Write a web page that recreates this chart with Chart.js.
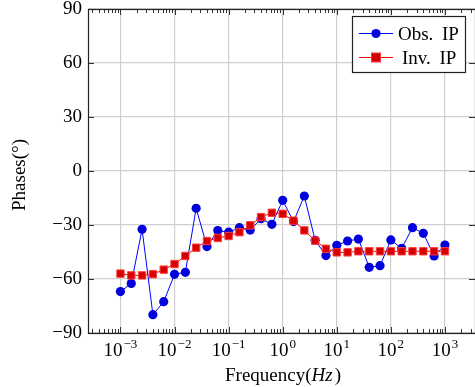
<!DOCTYPE html>
<html>
<head>
<meta charset="utf-8">
<script src="https://cdn.jsdelivr.net/npm/chart.js@4/dist/chart.umd.min.js"></script>
<style>
  html, body { margin: 0; padding: 0; background: #fff; }
  canvas { display: block; }
</style>
</head>
<body>
<canvas id="phaseChart" width="475" height="387"></canvas>
<script>
// Frequencies (Hz), 5 points per decade
const frequencies = [
  0.001, 0.001585, 0.002512, 0.003981, 0.00631,
  0.01, 0.01585, 0.02512, 0.03981, 0.0631,
  0.1, 0.1585, 0.2512, 0.3981, 0.631,
  1, 1.585, 2.512, 3.981, 6.31,
  10, 15.85, 25.12, 39.81, 63.1,
  100, 158.5, 251.2, 398.1, 631,
  1000
];

// Observed IP phases (degrees)
const obsIP = [
  -67, -62.5, -32.4, -79.8, -72.6,
  -57.4, -56.3, -20.7, -42, -33.1,
  -34, -31.5, -32.8, -26.5, -29.6,
  -16.3, -28.1, -13.9, -38.5, -47,
  -41.3, -38.9, -37.8, -53.5, -52.6,
  -38.3, -43, -31.5, -34.6, -47.2,
  -41.1
];

// Inverted IP phases (degrees)
const invIP = [
  -57, -58, -58, -57.3, -54.8,
  -51.7, -47.2, -42.6, -38.9, -37.2,
  -36.1, -34, -30.2, -25.6, -23.2,
  -23.8, -27.6, -33, -38.7, -43.2,
  -45.2, -45.2, -44.6, -44.6, -44.6,
  -44.6, -44.6, -44.6, -44.6, -44.6,
  -44.6
];

const yTicks = [-90, -60, -30, 0, 30, 60, 90];
const xDecades = [-3, -2, -1, 0, 1, 2, 3];

const SERIF = '"Liberation Serif", "Times New Roman", serif';
const GRID = '#cfcfcf';

function toPoints(ys) {
  return ys.map((y, i) => ({ x: frequencies[i], y: y }));
}

function minus(v) {
  return v < 0 ? '\u2212' + Math.abs(v) : String(v);
}

// frame, inside ticks, x labels, axis titles and legend
const decorations = {
  id: 'decorations',
  afterDraw(chart) {
    const ctx = chart.ctx;
    const area = chart.chartArea;
    const xs = chart.scales.x;
    const ys = chart.scales.y;
    ctx.save();

    // ticks
    ctx.strokeStyle = '#333';
    ctx.lineWidth = 1;
    ctx.beginPath();
    for (let d = -4; d <= 3; d++) {
      for (let m = 1; m <= 9; m++) {
        const v = m * Math.pow(10, d);
        if (v < xs.min || v > xs.max) continue;
        const px = Math.round(xs.getPixelForValue(v)) + 0.5;
        const len = m === 1 ? 6 : 4;
        ctx.moveTo(px, area.bottom);
        ctx.lineTo(px, area.bottom - len);
        ctx.moveTo(px, area.top);
        ctx.lineTo(px, area.top + len);
      }
    }
    yTicks.forEach(v => {
      const py = Math.round(ys.getPixelForValue(v)) + 0.5;
      ctx.moveTo(area.left, py);
      ctx.lineTo(area.left + 6, py);
      ctx.moveTo(area.right, py);
      ctx.lineTo(area.right - 6, py);
    });
    ctx.stroke();

    // frame
    ctx.strokeStyle = '#222';
    ctx.lineWidth = 1.2;
    ctx.strokeRect(area.left + 0.5, area.top + 0.5, area.right - area.left, area.bottom - area.top);

    // x tick labels 10^n
    ctx.fillStyle = '#000';
    ctx.textBaseline = 'alphabetic';
    xDecades.forEach(d => {
      const px = xs.getPixelForValue(Math.pow(10, d));
      const exp = minus(d);
      ctx.font = '19px ' + SERIF;
      const wBase = ctx.measureText('10').width;
      ctx.font = '13px ' + SERIF;
      const wExp = ctx.measureText(exp).width;
      const x0 = px - (wBase + wExp + 1) / 2;
      ctx.textAlign = 'left';
      ctx.font = '19px ' + SERIF;
      ctx.fillText('10', x0, 356);
      ctx.font = '13px ' + SERIF;
      ctx.fillText(exp, x0 + wBase + 1, 348);
    });

    // x title
    ctx.font = '19px ' + SERIF;
    const p1 = 'Frequency(', p2 = 'Hz', p3 = ')';
    const w1 = ctx.measureText(p1).width;
    const w3 = ctx.measureText(p3).width;
    ctx.font = 'italic 19px ' + SERIF;
    const w2 = ctx.measureText(p2).width;
    const tx = 283 - (w1 + w2 + w3 + 2) / 2;
    ctx.font = '19px ' + SERIF;
    ctx.fillText(p1, tx, 381);
    ctx.font = 'italic 19px ' + SERIF;
    ctx.fillText(p2, tx + w1, 381);
    ctx.font = '19px ' + SERIF;
    ctx.fillText(p3, tx + w1 + w2 + 2, 381);

    // y title
    ctx.save();
    ctx.translate(25, 175);
    ctx.rotate(-Math.PI / 2);
    ctx.textAlign = 'center';
    ctx.fillText('Phases(\u00B0)', 0, 0);
    ctx.restore();

    // legend
    ctx.fillStyle = '#fff';
    ctx.fillRect(352, 16, 113, 56);
    ctx.strokeStyle = '#222';
    ctx.lineWidth = 1.2;
    ctx.strokeRect(352.5, 16.5, 113, 56);

    ctx.lineWidth = 1;
    ctx.strokeStyle = '#0000ff';
    ctx.beginPath();
    ctx.moveTo(359, 33.5);
    ctx.lineTo(393, 33.5);
    ctx.stroke();
    ctx.fillStyle = '#0000dd';
    ctx.beginPath();
    ctx.arc(376, 33.5, 4.6, 0, Math.PI * 2);
    ctx.fill();

    ctx.strokeStyle = '#ff0000';
    ctx.beginPath();
    ctx.moveTo(359, 57.5);
    ctx.lineTo(393, 57.5);
    ctx.stroke();
    ctx.fillStyle = '#d40000';
    ctx.fillRect(371.5, 53, 9, 9);
    ctx.strokeStyle = '#ff3b3b';
    ctx.strokeRect(371.5, 53, 9, 9);

    ctx.fillStyle = '#000';
    ctx.font = '19px ' + SERIF;
    ctx.textAlign = 'left';
    ctx.fillText('Obs. \u2009IP', 398, 40);
    ctx.fillText('Inv. \u2009IP', 402, 64);

    ctx.restore();
  }
};

new Chart(document.getElementById('phaseChart'), {
  type: 'line',
  data: {
    datasets: [
      {
        label: 'Obs. IP',
        data: toPoints(obsIP),
        borderColor: '#0000ff',
        borderWidth: 1,
        backgroundColor: '#0000dd',
        pointStyle: 'circle',
        pointRadius: 4.6,
        pointBorderWidth: 0,
        pointBackgroundColor: '#0000dd',
        tension: 0,
        order: 2,
        clip: false,
      },
      {
        label: 'Inv. IP',
        data: toPoints(invIP),
        borderColor: '#ff0000',
        borderWidth: 1,
        backgroundColor: '#d40000',
        pointStyle: 'rect',
        pointRadius: 5.2,
        pointBorderWidth: 1,
        pointBorderColor: '#ff3b3b',
        pointBackgroundColor: '#d40000',
        tension: 0,
        order: 1,
        clip: false,
      },
    ],
  },
  options: {
    responsive: false,
    animation: false,
    devicePixelRatio: 1,
    layout: { autoPadding: false, padding: { top: 9, right: 0, left: 0, bottom: 0 } },
    plugins: {
      legend: { display: false },
      tooltip: { enabled: false },
    },
    scales: {
      x: {
        type: 'logarithmic',
        min: Math.pow(10, -3.6),
        max: Math.pow(10, 3.556),
        afterBuildTicks: scale => {
          scale.ticks = xDecades.map(d => ({ value: Math.pow(10, d) }));
        },
        afterFit: scale => {
          scale.height = 54;
          scale.paddingLeft = 0;
          scale.paddingRight = 0;
        },
        ticks: { display: false },
        grid: { color: GRID, lineWidth: 1.2, drawTicks: false },
        border: { display: false },
      },
      y: {
        min: -90,
        max: 90,
        afterBuildTicks: scale => {
          scale.ticks = yTicks.map(v => ({ value: v }));
        },
        afterFit: scale => {
          scale.width = 88;
          scale.paddingTop = 0;
          scale.paddingBottom = 0;
        },
        ticks: {
          padding: 6,
          color: '#000',
          font: { family: SERIF, size: 19 },
          callback: v => minus(v),
        },
        grid: { color: GRID, lineWidth: 1.2, drawTicks: false },
        border: { display: false },
      },
    },
  },
  plugins: [decorations],
});
</script>
</body>
</html>
